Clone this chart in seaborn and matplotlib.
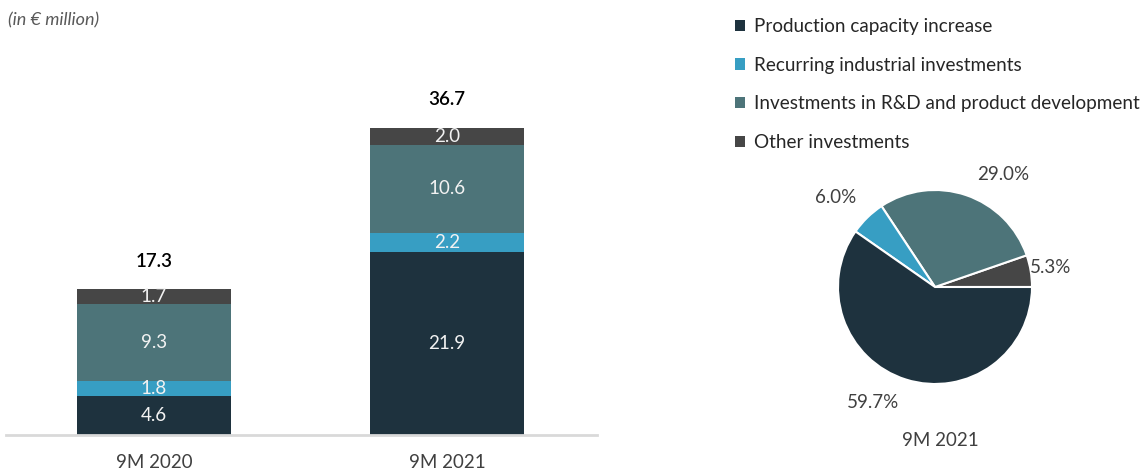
import numpy as np
import pandas as pd
import seaborn as sns
import matplotlib.pyplot as plt
from matplotlib.patches import Patch

sns.set_style("white")
plt.rcParams['font.family'] = ['Lato', 'DejaVu Sans']

# data
periods = ['9M 2020', '9M 2021']
categories = ['Production capacity increase', 'Recurring industrial investments',
              'Investments in R&D and product development', 'Other investments']
production = [4.6, 21.9]
recurring = [1.8, 2.2]
rnd = [9.3, 10.6]
other = [1.7, 2.0]
totals = [17.3, 36.7]

pie_labels = ['Other investments', 'Investments in R&D and product development',
              'Recurring industrial investments', 'Production capacity increase']
pie_share = [5.3, 29.0, 6.0, 59.7]
pie_title = '9M 2021'

colors = {'Production capacity increase': '#1e323e',
          'Recurring industrial investments': '#379ec3',
          'Investments in R&D and product development': '#4d7479',
          'Other investments': '#464646'}

df = pd.DataFrame({'period': periods, categories[0]: production, categories[1]: recurring,
                   categories[2]: rnd, categories[3]: other})

W, H = 1146, 473
fig = plt.figure(figsize=(W / 100, H / 100), dpi=100)

# stacked bars
ax = fig.add_axes([6 / W, 1 - 435 / H, 591 / W, 418 / H])
bottom = np.zeros(len(periods))
for cat in categories:
    vals = df[cat].values
    sns.barplot(data=df, x='period', y=cat, color=colors[cat], width=0.526,
                bottom=bottom, ax=ax, saturation=1, linewidth=0)
    for i, v in enumerate(vals):
        ax.text(i, bottom[i] + v / 2, f'{v:.1f}', ha='center', va='center',
                color='#f2f2f2', fontsize=13.5)
    bottom = bottom + vals
for i, t in enumerate(totals):
    ax.text(i, t + 3.4, f'{t:.1f}', ha='center', va='center', color='black',
            fontsize=13.5, fontweight='semibold')
ax.set_ylim(0, 418 / 8.37)
ax.set_xlim(-0.505, 1.512)
ax.set_ylabel('')
ax.set_xlabel('')
ax.set_yticks([])
sns.despine(ax=ax, left=True)
ax.spines['bottom'].set_color('#d9d9d9')
ax.spines['bottom'].set_linewidth(2)
ax.tick_params(axis='x', length=0, pad=14, labelsize=13.5, labelcolor='#404040')
ax.set_facecolor('none')

fig.text(8 / W, 1 - 20 / H, '(in € million)', fontsize=13, style='italic',
         color='#595959', va='center', ha='left')

# pie
cx, cy, r = 935, 287, 97
pax = fig.add_axes([(cx - r) / W, 1 - (cy + r) / H, 2 * r / W, 2 * r / H])
wedges, _, pct = pax.pie(pie_share, colors=[colors[c] for c in pie_labels], startangle=0,
                         autopct='%.1f%%', pctdistance=1.3, radius=1,
                         wedgeprops=dict(edgecolor='white', linewidth=1.5),
                         textprops=dict(fontsize=13.5, color='#404040'))
# label spots as placed in the reference
for t, pos in zip(pct, [(1.19, 0.20), (0.70, 1.16), (-1.02, 0.92), (-0.64, -1.19)]):
    t.set_position(pos)
pax.set_xlim(-1, 1)
pax.set_ylim(-1, 1)
pax.set_aspect('equal')
fig.text(940 / W, 1 - 440 / H, pie_title, fontsize=13.5, color='#404040',
         ha='center', va='center')

handles = [Patch(facecolor=colors[c], edgecolor='none', label=c) for c in categories]
fig.legend(handles=handles, loc='upper left', bbox_to_anchor=(735 / W, 1 - 18 / H),
           frameon=False, handlelength=0.55, handleheight=0.55,
           handletextpad=0.45, labelspacing=1.15, labelcolor='#262626',
           borderpad=0, borderaxespad=0,
           prop=dict(family=['Lato', 'DejaVu Sans'], size=13.6))

fig.savefig('out.png', dpi=100)
